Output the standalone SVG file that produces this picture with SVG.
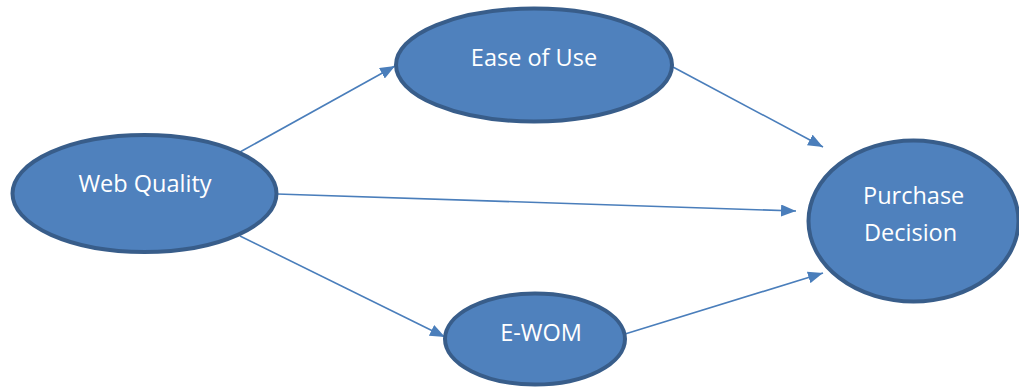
<svg xmlns="http://www.w3.org/2000/svg" width="1019" height="387" viewBox="0 0 1019 387">
<style>
.node ellipse{fill:#4f81bd;stroke:#385d8a;stroke-width:4}
.node text{fill:#ffffff;font-family:"Open Sans","Liberation Sans",sans-serif;font-size:23.5px}
.conn line{stroke:#4a7ebb;stroke-width:1.6;marker-end:url(#ah)}
</style>
<defs>
<marker id="ah" markerUnits="userSpaceOnUse" markerWidth="16" markerHeight="12" refX="15" refY="6" orient="auto">
<path d="M0,0 L15,6 L0,12 z" fill="#4a7ebb"/>
</marker>
</defs>
<rect width="1019" height="387" fill="#ffffff"/>
<g id="connectors" class="conn">
<line x1="240" y1="152" x2="395" y2="66"/>
<line x1="673" y1="67" x2="823" y2="147"/>
<line x1="277" y1="194" x2="796" y2="211"/>
<line x1="240" y1="236" x2="445" y2="337"/>
<line x1="625" y1="334" x2="823" y2="273"/>
</g>
<g id="web-quality" class="node">
<ellipse cx="144.5" cy="193.5" rx="132" ry="58.5"/>
<text x="145" y="192" text-anchor="middle">Web Quality</text>
</g>
<g id="ease-of-use" class="node">
<ellipse cx="534" cy="65" rx="138" ry="56.5"/>
<text x="534" y="66" text-anchor="middle">Ease of Use</text>
</g>
<g id="purchase-decision" class="node">
<ellipse cx="913.5" cy="221" rx="105" ry="80.5"/>
<text x="863" y="204">Purchase</text>
<text x="864" y="241">Decision</text>
</g>
<g id="e-wom" class="node">
<ellipse cx="535" cy="339" rx="90" ry="45.5"/>
<text x="541" y="341" text-anchor="middle">E-WOM</text>
</g>
</svg>
